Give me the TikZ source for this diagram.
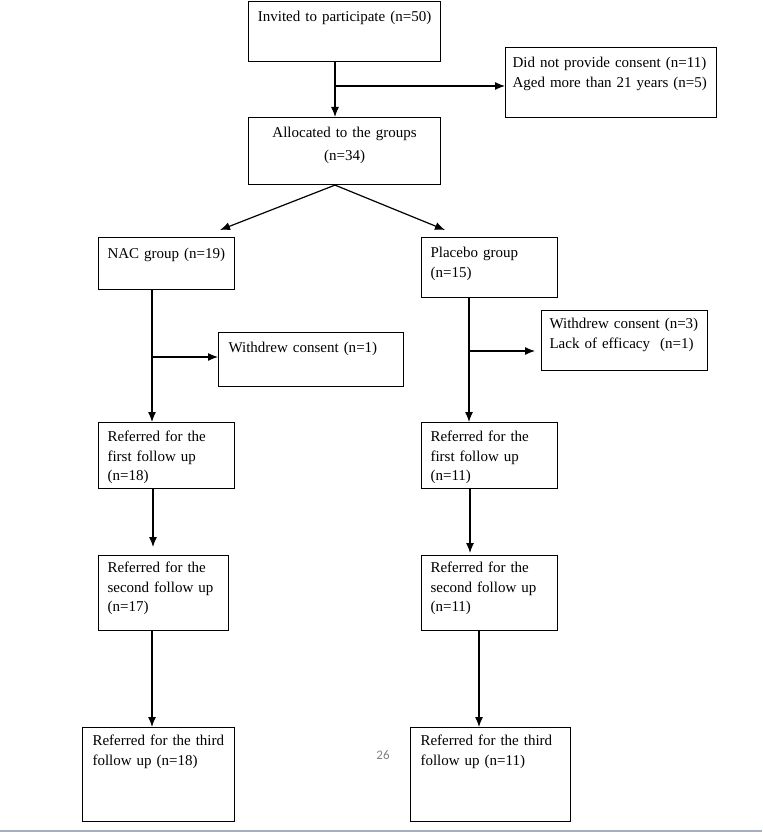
\documentclass[tikz,border=0pt]{standalone}
\usepackage{fontspec}
\usetikzlibrary{arrows.meta}
\setmainfont{Liberation Serif}
\newfontfamily\pagefont{Carlito}
\begin{document}
\begin{tikzpicture}[x=1pt, y=-1pt]
      \tikzset{box/.style={draw, line width=1.1pt, anchor=north west, inner xsep=9pt, inner ysep=0pt, align=left, text height=20pt, font=\fontsize{15}{19.5}\selectfont}}
      \tikzset{arrow/.style={->, >={Latex[length=10pt, width=8pt]}, line width=1.2pt}}
      \useasboundingbox (0,0) rectangle (762,834);
%% Boxes
	%top
      	\node[box, align=center, inner xsep=6pt, text width=180pt, text depth=40pt] (invited) at (248,1) {Invited to participate (n=50)};
     	\node[box, inner xsep=7pt, text width=197pt, text depth=50pt] (excl) at (505,47) {Did not provide consent (n=11)\\Aged more than 21 years (n=5)};
     	\node[box, align=center, text width=174pt, text depth=47pt] (alloc) at (248,117) {Allocated to the groups\\[3pt](n=34)};
	%NAC
		\node[box, text width=118pt, text height=21pt, text depth=31pt] (nac) at (98,237) {NAC group (n=19)};
     	\node[box, inner xsep=10pt, text width=165pt, text depth=34pt] (nacwd) at (218,332) {Withdrew consent (n=1)};
     	\node[box, text width=118pt, text height=19pt, text depth=47pt] (nacref1) at (98,422) {Referred for the\\first follow up\\(n=18)};
     	\node[box, text width=112pt, text height=17pt, text depth=58pt] (nacref2) at (98,555) {Referred for the\\second follow up\\(n=17)};
     	\node[box, inner xsep=10pt, text width=132pt, text height=18pt, text depth=76pt] (nacref3) at (82,727) {Referred for the third\\follow up (n=18)};
	%Placebo
		\node[box, text width=118pt, text depth=40pt] (plc) at (421,237) {Placebo group\\(n=15)};
     	\node[box, inner xsep=8pt, text width=150pt, text height=18pt, text depth=42pt] (plcwd) at (541,310) {Withdrew consent (n=3)\\Lack of efficacy~ (n=1)};
     	\node[box, text width=118pt, text height=19pt, text depth=47pt] (plcref1) at (421,422) {Referred for the\\first follow up\\(n=11)};
     	\node[box, text width=118pt, text height=17pt, text depth=58pt] (plcref2) at (421,555) {Referred for the\\second follow up\\(n=11)};
     	\node[box, inner xsep=10pt, text width=140pt, text height=18pt, text depth=76pt] (plcref3) at (410,727) {Referred for the third\\follow up (n=11)};
	%page
		\node[text=gray, font=\pagefont\fontsize{13}{15}\selectfont] (pagenum) at (383,755) {26};
%% Joints
      	\coordinate (s0) at (335,86);
      	\coordinate (nacin) at (220,230);
      	\coordinate (plcin) at (445,230);
      	\coordinate (s2) at (152,357);
      	\coordinate (s3) at (469,351);
      	\coordinate (plcwdin) at (535,351);
      	\coordinate (nacr2in) at (153,547);
      	\coordinate (plcr2in) at (470,553);
      	\coordinate (plcdown) at (479,680);
%Arrows
	%top
		\draw [line width=1.2pt] (invited.south -| s0) -- (s0);
		\draw [arrow] (s0) -- (alloc.north -| s0);
		\draw [arrow] (s0) -- (s0 -| excl.west);
		\draw [arrow] (alloc.south -| s0) -- (nacin);
		\draw [arrow] (alloc.south -| s0) -- (plcin);
	%NAC
		\draw [line width=1.2pt] (nac.south -| s2) -- (s2);
		\draw [arrow] (s2) -- (s2 -| nacwd.west);
		\draw [arrow] (s2) -- (nacref1.north -| s2);
		\draw [arrow] (nacref1.south -| nacr2in) -- (nacr2in);
		\draw [arrow] (nacref2.south -| s2) -- (nacref3.north -| s2);
	%Placebo
		\draw [line width=1.2pt] (plc.south -| s3) -- (s3);
		\draw [arrow] (s3) -- (plcwdin);
		\draw [arrow] (s3) -- (plcref1.north -| s3);
		\draw [arrow] (plcref1.south -| plcr2in) -- (plcr2in);
		\draw [arrow] (plcref2.south -| plcdown) -- (plcref3.north -| plcdown);
	%bottom rule
		\draw [line width=2pt, color={rgb,255:red,165;green,175;blue,190}] (0,831) -- (762,831);
\end{tikzpicture}
\end{document}
